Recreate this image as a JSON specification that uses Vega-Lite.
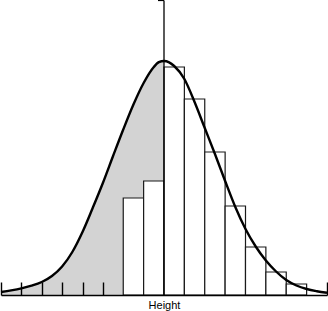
{
  "$schema": "https://vega.github.io/schema/vega-lite/v6.json",
  "width": 326,
  "height": 295,
  "autosize": {"type": "none"},
  "padding": {"left": 1, "right": 1, "top": 0, "bottom": 16},
  "background": "white",
  "config": {
    "view": {"stroke": null},
    "font": "Liberation Sans",
    "axisX": {
      "labels": false, "tickSize": -13, "tickColor": "black", "tickWidth": 1.4,
      "domainColor": "black", "domainWidth": 1.5, "grid": false,
      "titleFontSize": 11, "titleFontWeight": "normal", "titleColor": "black",
      "titleFont": "Liberation Sans", "titleY": 13.5, "titleBaseline": "alphabetic"
    },
    "axisY": {
      "labels": false, "tickSize": 6, "tickColor": "black", "tickWidth": 1.2,
      "domainColor": "black", "domainWidth": 1.3, "offset": -162.5, "grid": false
    }
  },
  "datasets": {
    "curve": [
      {"x": 0, "h": 3}, {"x": 0.5, "h": 4.6}, {"x": 1, "h": 6.6}, {"x": 1.5, "h": 9.3},
      {"x": 2, "h": 13}, {"x": 2.5, "h": 19}, {"x": 3, "h": 28.5}, {"x": 3.5, "h": 43},
      {"x": 4, "h": 63}, {"x": 4.5, "h": 87}, {"x": 5, "h": 112}, {"x": 5.5, "h": 139},
      {"x": 6, "h": 165.5}, {"x": 6.5, "h": 190.5}, {"x": 7, "h": 212}, {"x": 7.5, "h": 228},
      {"x": 7.75, "h": 232.8}, {"x": 8, "h": 234}, {"x": 8.25, "h": 232.7}, {"x": 8.5, "h": 229},
      {"x": 9, "h": 216}, {"x": 9.5, "h": 193}, {"x": 10, "h": 167}, {"x": 10.5, "h": 141},
      {"x": 11, "h": 114}, {"x": 11.5, "h": 88}, {"x": 12, "h": 66}, {"x": 12.5, "h": 48.5},
      {"x": 13, "h": 34.5}, {"x": 13.5, "h": 23.5}, {"x": 14, "h": 15}, {"x": 14.5, "h": 9.5},
      {"x": 15, "h": 6}, {"x": 15.5, "h": 3.8}, {"x": 16, "h": 2.2}
    ],
    "bars": [
      {"start": 6, "end": 7, "h": 97},
      {"start": 7, "end": 8, "h": 114},
      {"start": 8, "end": 9, "h": 228},
      {"start": 9, "end": 10, "h": 196},
      {"start": 10, "end": 11, "h": 143},
      {"start": 11, "end": 12, "h": 89},
      {"start": 12, "end": 13, "h": 48},
      {"start": 13, "end": 14, "h": 23},
      {"start": 14, "end": 15, "h": 11}
    ]
  },
  "layer": [
    {
      "data": {"name": "curve"},
      "transform": [{"filter": "datum.x <= 8"}],
      "mark": {"type": "area", "color": "#d3d3d3", "interpolate": "monotone"},
      "encoding": {
        "x": {
          "field": "x", "type": "quantitative",
          "scale": {"domain": [0, 16], "nice": false, "zero": false},
          "axis": {"title": "Height", "values": [0, 1, 2, 3, 4, 5, 16], "zindex": 1}
        },
        "y": {
          "field": "h", "type": "quantitative",
          "scale": {"domain": [0, 295], "nice": false},
          "axis": {"title": null, "values": [295], "zindex": 1}
        }
      }
    },
    {
      "data": {"name": "bars"},
      "mark": {"type": "rect", "fill": "white", "stroke": "#1a1a1a", "strokeWidth": 1.2},
      "encoding": {
        "x": {"field": "start", "type": "quantitative", "axis": {"title": "Height", "values": [0, 1, 2, 3, 4, 5, 16], "zindex": 1}},
        "x2": {"field": "end"},
        "y": {"field": "h", "type": "quantitative", "axis": {"title": null, "values": [295], "zindex": 1}},
        "y2": {"datum": 0}
      }
    },
    {
      "data": {"name": "curve"},
      "mark": {"type": "line", "color": "black", "strokeWidth": 2.4, "interpolate": "monotone"},
      "encoding": {
        "x": {"field": "x", "type": "quantitative", "axis": {"title": "Height", "values": [0, 1, 2, 3, 4, 5, 16], "zindex": 1}},
        "y": {"field": "h", "type": "quantitative", "axis": {"title": null, "values": [295], "zindex": 1}}
      }
    }
  ]
}
